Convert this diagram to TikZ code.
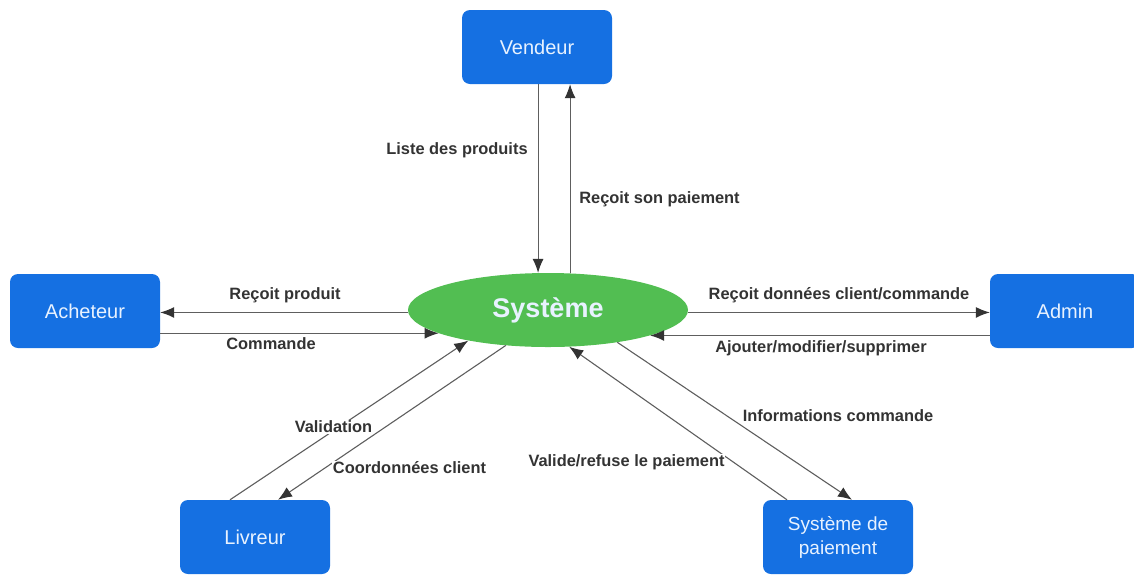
\documentclass[tikz,border=0pt]{standalone}
\usepackage{fontspec}
\setmainfont{Liberation Sans}
\usetikzlibrary{positioning, shapes.geometric, arrows.meta}
\definecolor{kastenblau}{HTML}{1570E2}
\definecolor{kastentext}{HTML}{E8F2FF}
\definecolor{systemgruen}{HTML}{52BE52}
\definecolor{pfeilgrau}{HTML}{5E5E5E}
\definecolor{textgrau}{HTML}{333333}
\tikzset{
    kasten/.style={
        rectangle,
        rounded corners=8pt,   % Abgerundete Ecken wie im Original
        fill=kastenblau,       % Kräftiges Blau
        text=kastentext,
        minimum width=150pt,
        minimum height=74pt,
        align=center,
        font=\fontsize{20}{24}\selectfont
    },
    kern/.style={
        ellipse,
        fill=systemgruen,      % Grüne Ellipse in der Mitte
        text=kastentext,
        minimum width=280pt,
        minimum height=74pt,
        inner sep=0pt,
        font=\bfseries\fontsize{27}{32}\selectfont
    },
    fluss/.style={
        draw=pfeilgrau,
        line width=1.1pt,
        -{Latex[length=14pt,width=11pt,color=textgrau]}
    },
    etikett/.style={
        fill=white,
        inner sep=0.5pt,
        text=textgrau,
        font=\bfseries\fontsize{16.4}{19}\selectfont
    }
}

\begin{document}
\begin{tikzpicture}[x=1pt, y=-1pt]

    \useasboundingbox (0,0) rectangle (1134,574);
    \clip (0,0) rectangle (1134,574);

    % Zentrales System
    \node[kern] (systeme) at (548,310) {Système};

    % Akteure rundherum
    \node[kasten] (vendeur) at (537,47) {Vendeur};
    \node[kasten] (acheteur) at (85,311) {Acheteur};
    \node[kasten] (admin) at (1065,311) {Admin};
    \node[kasten] (livreur) at (255,537) {Livreur};
    \node[kasten, font=\fontsize{19}{24}\selectfont] (paiement) at (838,537) {Système de\\paiement};

    % Pfeile oben
    \draw[fluss] (vendeur.south -| systeme.105) -- (systeme.105);
    \draw[fluss] (systeme.59) -- (vendeur.south -| systeme.59);

    % Pfeile links
    \draw[fluss] (systeme.181) -- (acheteur.east |- systeme.181);
    \draw[fluss] (acheteur.east |- systeme.192) -- (systeme.192);

    % Pfeile rechts
    \draw[fluss] (systeme.359) -- (admin.west |- systeme.359);
    \draw[fluss] (admin.west |- systeme.346) -- (systeme.346);

    % Pfeile unten
    \draw[fluss] ([xshift=-25pt]livreur.north) -- (systeme.201);
    \draw[fluss] (systeme.220) -- ([xshift=23pt]livreur.north);
    \draw[fluss] (systeme.335) -- ([xshift=14pt]paiement.north);
    \draw[fluss] ([xshift=-51pt]paiement.north) -- (systeme.300);

    % Beschriftungen
    \node[etikett] (lblListe) at (457,150) {Liste des produits};
    \node[etikett] (lblPaiement) at (659.5,199) {Reçoit son paiement};
    \node[etikett] (lblProduit) at (285,295) {Reçoit produit};
    \node[etikett] (lblCommande) at (271,344) {Commande};
    \node[etikett] (lblDonnees) at (839,295) {Reçoit données client/commande};
    \node[etikett] (lblAjouter) at (821,348) {Ajouter/modifier/supprimer};
    \node[etikett] (lblValidation) at (333.5,427) {Validation};
    \node[etikett] (lblCoord) at (409.5,468) {Coordonnées client};
    \node[etikett] (lblValide) at (626.5,462) {Valide/refuse le paiement};
    \node[etikett] (lblInfos) at (838,416) {Informations commande};

\end{tikzpicture}
\end{document}
